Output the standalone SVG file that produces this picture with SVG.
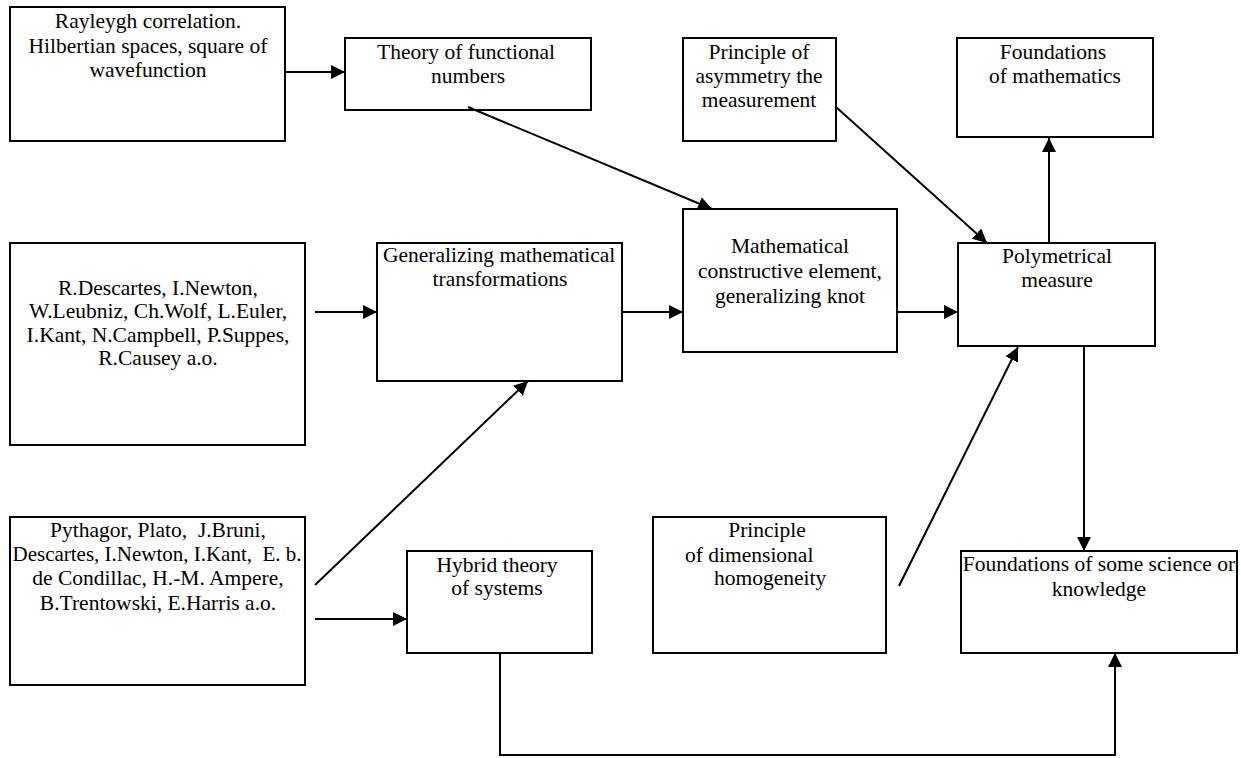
<svg xmlns="http://www.w3.org/2000/svg" width="1241" height="758" viewBox="0 0 1241 758">
<style>
.box{fill:#fff;stroke:#000;stroke-width:2}
.c{fill:none;stroke:#000;stroke-width:2}
text{font-family:"Liberation Serif","Times New Roman",serif;font-size:21.5px;fill:#000}
.m{text-anchor:middle}
</style>
<defs>
<marker id="a" markerUnits="userSpaceOnUse" markerWidth="16" markerHeight="16" refX="14" refY="7" orient="auto">
<path d="M0,0 L14,7 L0,14 z" fill="#000"/>
</marker>
</defs>
<rect width="1241" height="758" fill="#fff"/>
<g id="n-rayleygh"><rect class="box" x="10" y="7" width="275" height="134"/>
<text class="m" x="148" y="28">Rayleygh correlation.</text><text class="m" x="148" y="53">Hilbertian spaces, square of</text><text class="m" x="148" y="77">wavefunction</text></g>
<g id="n-theory"><rect class="box" x="345" y="38" width="246" height="72"/>
<text class="m" x="466" y="59">Theory of functional</text><text class="m" x="468" y="83">numbers</text></g>
<g id="n-asym"><rect class="box" x="683" y="38" width="153" height="103"/>
<text class="m" x="759" y="59">Principle of</text><text class="m" x="759" y="83">asymmetry the</text><text class="m" x="759" y="107">measurement</text></g>
<g id="n-fmath"><rect class="box" x="957" y="38" width="196" height="99"/>
<text class="m" x="1053" y="59">Foundations</text><text class="m" x="1055" y="83">of mathematics</text></g>
<g id="n-desc"><rect class="box" x="10" y="243" width="295" height="202"/>
<text class="m" x="158" y="295">R.Descartes, I.Newton,</text><text class="m" x="158" y="318">W.Leubniz, Ch.Wolf, L.Euler,</text><text class="m" x="158" y="342">I.Kant, N.Campbell, P.Suppes,</text><text class="m" x="158" y="365">R.Causey a.o.</text></g>
<g id="n-gen"><rect class="box" x="377" y="243" width="245" height="138"/>
<text x="383" y="262">Generalizing mathematical</text><text class="m" x="500" y="286">transformations</text></g>
<g id="n-math"><rect class="box" x="683" y="209" width="214" height="143"/>
<text class="m" x="790" y="253">Mathematical</text><text class="m" x="790" y="278">constructive element,</text><text class="m" x="790" y="303">generalizing knot</text></g>
<g id="n-poly"><rect class="box" x="958" y="243" width="197" height="103"/>
<text class="m" x="1057" y="263">Polymetrical</text><text class="m" x="1057" y="287">measure</text></g>
<g id="n-pyth"><rect class="box" x="10" y="517" width="295" height="168"/>
<text class="m" x="158" y="537" xml:space="preserve">Pythagor, Plato,  J.Bruni,</text><text class="m" x="157" y="561" xml:space="preserve" textLength="289" lengthAdjust="spacingAndGlyphs">Descartes, I.Newton, I.Kant,  E. b.</text><text class="m" x="158" y="585">de Condillac, H.-M. Ampere,</text><text class="m" x="158" y="610">B.Trentowski, E.Harris a.o.</text></g>
<g id="n-hybrid"><rect class="box" x="407" y="551" width="185" height="102"/>
<text class="m" x="497" y="572">Hybrid theory</text><text class="m" x="497" y="595">of systems</text></g>
<g id="n-dim"><rect class="box" x="653" y="517" width="233" height="136"/>
<text class="m" x="767" y="537">Principle</text><text x="685" y="562">of dimensional</text><text x="714" y="585">homogeneity</text></g>
<g id="n-fsci"><rect class="box" x="961" y="551" width="276" height="102"/>
<text class="m" x="1099" y="571">Foundations of some science or</text><text class="m" x="1099" y="596">knowledge</text></g>
<g id="connectors">
<path class="c" d="M285,72 L345,72" marker-end="url(#a)"/>
<path class="c" d="M468,107 L712,209" marker-end="url(#a)"/>
<path class="c" d="M836,107 L987,243" marker-end="url(#a)"/>
<path class="c" d="M1049,243 L1049,138" marker-end="url(#a)"/>
<path class="c" d="M315,312 L377,312" marker-end="url(#a)"/>
<path class="c" d="M622,312 L683,312" marker-end="url(#a)"/>
<path class="c" d="M897,312 L958,312" marker-end="url(#a)"/>
<path class="c" d="M315,585 L528,381" marker-end="url(#a)"/>
<path class="c" d="M315,619 L407,619" marker-end="url(#a)"/>
<path class="c" d="M899,586 L1018,347" marker-end="url(#a)"/>
<path class="c" d="M1084,346 L1084,551" marker-end="url(#a)"/>
<path class="c" d="M500,653 L500,755 L1115,755 L1115,653" marker-end="url(#a)"/>
</g>
</svg>
